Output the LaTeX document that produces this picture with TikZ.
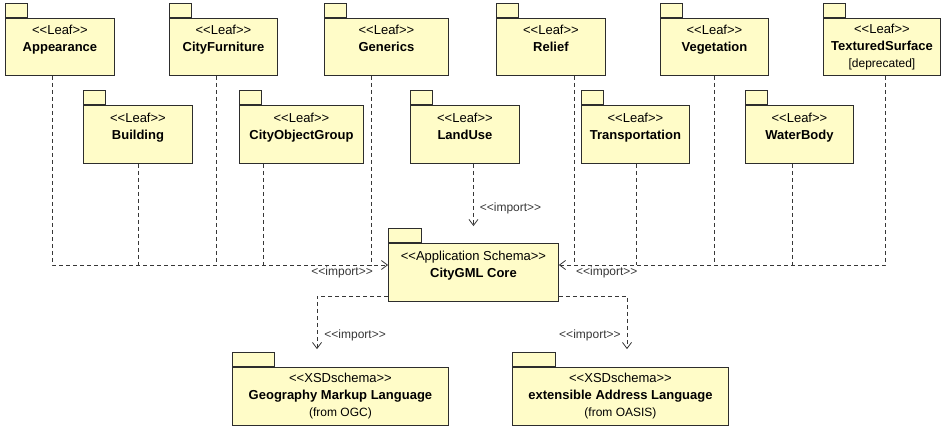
\documentclass[tikz,border=0pt]{standalone}
\usepackage{fontspec}
\setmainfont{Liberation Sans}
\usepackage{xcolor}
\usetikzlibrary{positioning,arrows.meta}

\definecolor{pkgfill}{RGB}{255,252,200}
\definecolor{pkgline}{RGB}{45,45,45}
\definecolor{depline}{RGB}{55,55,55}
\newcommand{\stereo}[1]{<{}<#1>{}>}

\tikzset{
  pkg/.style={rectangle, draw=pkgline, fill=pkgfill, line width=0.9pt, align=center,
    anchor=north west, inner sep=0pt, font=\fontsize{13}{17}\selectfont},
  tabbox/.style={rectangle, draw=pkgline, fill=pkgfill, line width=0.9pt,
    anchor=south west, inner sep=0pt, minimum width=22pt, minimum height=14pt},
  dep/.style={draw=depline, line width=0.8pt, dash pattern=on 4pt off 3pt},
  imp/.style={dep, -{Straight Barb[length=6pt,width=9pt]}},
  implabel/.style={inner sep=1pt, text=depline, font=\fontsize{12}{14}\selectfont},
  small/.style={font=\fontsize{12}{17}\selectfont}
}

\begin{document}
\begin{tikzpicture}[x=1pt,y=-1pt]
\useasboundingbox (0,0) rectangle (944,428);

% top row of leaves
\node at (5,18) [pkg, minimum width=109pt, minimum height=57pt] (app) {\stereo{Leaf}\\\textbf{Appearance}\\\mbox{}};
\node at (169,18) [pkg, minimum width=108pt, minimum height=57pt] (cfu) {\stereo{Leaf}\\\textbf{CityFurniture}\\\mbox{}};
\node at (324,18) [pkg, minimum width=124pt, minimum height=57pt] (gen) {\stereo{Leaf}\\\textbf{Generics}\\\mbox{}};
\node at (496,18) [pkg, minimum width=109pt, minimum height=57pt] (rel) {\stereo{Leaf}\\\textbf{Relief}\\\mbox{}};
\node at (660,18) [pkg, minimum width=108pt, minimum height=57pt] (veg) {\stereo{Leaf}\\\textbf{Vegetation}\\\mbox{}};
\node at (823,18) [pkg, minimum width=117pt, minimum height=57pt] (tex) {\stereo{Leaf}\\\textbf{TexturedSurface}\\{\fontsize{12}{17}\selectfont [deprecated]}};

% second row of leaves
\node at (83,105) [pkg, minimum width=109pt, minimum height=58pt] (bld) {\stereo{Leaf}\\\textbf{Building}\\\mbox{}};
\node at (239,105) [pkg, minimum width=124pt, minimum height=58pt] (cog) {\stereo{Leaf}\\\textbf{CityObjectGroup}\\\mbox{}};
\node at (410,105) [pkg, minimum width=109pt, minimum height=58pt] (lu) {\stereo{Leaf}\\\textbf{LandUse}\\\mbox{}};
\node at (581,105) [pkg, minimum width=108pt, minimum height=58pt] (tra) {\stereo{Leaf}\\\textbf{Transportation}\\\mbox{}};
\node at (745,105) [pkg, minimum width=108pt, minimum height=58pt] (wat) {\stereo{Leaf}\\\textbf{WaterBody}\\\mbox{}};

% core and external schemas
\node at (388,243) [pkg, minimum width=170pt, minimum height=58pt] (core) {\stereo{Application Schema}\\\textbf{CityGML Core}\\\mbox{}};
\node at (232,367) [pkg, minimum width=216pt, minimum height=58pt] (gml) {\stereo{XSDschema}\\\textbf{Geography Markup Language}\\{\fontsize{12}{17}\selectfont (from OGC)}};
\node at (512,367) [pkg, minimum width=216pt, minimum height=58pt] (xal) {\stereo{XSDschema}\\\textbf{extensible Address Language}\\{\fontsize{12}{17}\selectfont (from OASIS)}};

% tabs
\foreach \n in {app,cfu,gen,rel,veg,tex,bld,cog,lu,tra,wat}
  \node at (\n.north west) [tabbox] (tab-\n) {};
\node at (core.north west) [tabbox, minimum width=33pt] (coreT) {};
\node at (gml.north west) [tabbox, minimum width=42pt] (gmlT) {};
\node at (xal.north west) [tabbox, minimum width=43pt] (xalT) {};

% imports into the core
\coordinate (inL) at ([yshift=-22pt]core.north west);
\coordinate (inR) at ([yshift=-22pt]core.north east);
\draw[imp] ([xshift=-7.5pt]app.south) |- (inL);
\foreach \n/\s in {bld/0.5, cfu/-7, cog/-38, gen/-15} {
  \path ([xshift=\s pt]\n.south) coordinate (drop);
  \draw[dep] (drop) -- (drop |- inL);
}
\draw[imp] ([xshift=3.5pt]tex.south) |- (inR);
\foreach \n/\s in {rel/23.5, tra/1, veg/0, wat/-7} {
  \path ([xshift=\s pt]\n.south) coordinate (drop);
  \draw[dep] (drop) -- (drop |- inR);
}
\path ([xshift=8.5pt]lu.south) coordinate (luOut);
\draw[imp, shorten >=2pt] (luOut) -- (luOut |- coreT.north) node[implabel, right=5pt, pos=0.7] (impU) {\stereo{import}};
\node[implabel, below left=1pt and 14pt of inL] (impL) {\stereo{import}};
\node[implabel, below right=1pt and 16pt of inR] (impR) {\stereo{import}};

% imports from the core
\coordinate (outL) at ([yshift=6pt]core.south west);
\coordinate (outR) at ([yshift=6pt]core.south east);
\draw[imp, shorten >=3pt] (outL) -| ([xshift=85pt]gmlT.north west) node[implabel, right=6pt, pos=0.85] (impG) {\stereo{import}};
\draw[imp, shorten >=3pt] (outR) -| ([xshift=115pt]xalT.north west) node[implabel, left=5pt, pos=0.85] (impX) {\stereo{import}};
\end{tikzpicture}
\end{document}
